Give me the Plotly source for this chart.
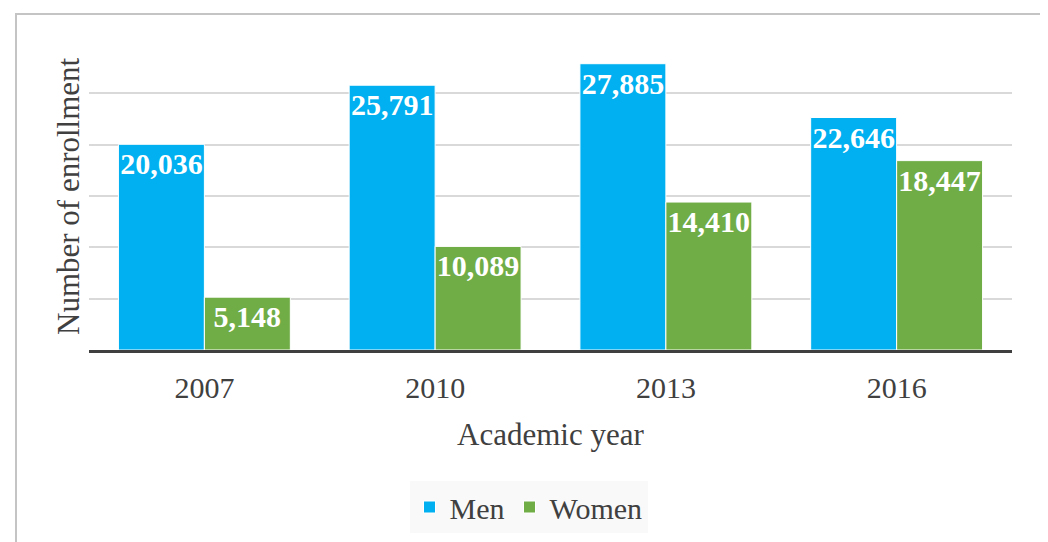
import plotly.graph_objects as go

years = ["2007", "2010", "2013", "2016"]
men = [20036, 25791, 27885, 22646]
women = [5148, 10089, 14410, 18447]
series_names = ["Men", "Women"]
colors = ["#00b0f0", "#70ad47"]

W, H = 1048, 542
OFF = 8  # page body margin offset
PL, PR, PT, PB = 89, 1012, 42, 350  # plot area in screen pixels
ML, MR, MT, MB = PL - OFF, W - (PR - OFF), PT - OFF, H - (PB - OFF)
bargap = 0.255
font = "Liberation Serif, Times New Roman, serif"
txt = "#404040"

fig = go.Figure()
for name, vals, c in zip(series_names, [men, women], colors):
    fig.add_trace(go.Bar(
        x=years, y=vals, name=name,
        marker=dict(color=c, line=dict(color="white", width=1)),
        texttemplate="<b>%{y:,}</b>", textposition="inside", textangle=0,
        insidetextanchor="end", constraintext="none",
        textfont=dict(family=font, size=30, color="white"),
    ))

plot_w = PR - PL
plot_h = PB - PT

def px_x(x):
    return (x - PL) / plot_w

def px_y(y):
    return (PB - y) / plot_h

annotations = [
    dict(x=0.5, y=px_y(434), xref="paper", yref="paper",
         text="Academic year", showarrow=False, xanchor="center", yanchor="middle",
         font=dict(family=font, size=31, color=txt)),
    dict(x=px_x(68), y=0.5, xref="paper", yref="paper",
         text="Number of enrollment", showarrow=False, textangle=-90,
         xanchor="center", yanchor="middle",
         font=dict(family=font, size=31, color=txt)),
]

fig.update_layout(
    width=W, height=H,
    margin=dict(l=ML, r=MR, t=MT, b=MB),
    paper_bgcolor="white", plot_bgcolor="white",
    barmode="group", bargap=bargap,
    font=dict(family=font, color=txt),
    showlegend=True,
    legend=dict(
        orientation="h", x=px_x(528.5), xanchor="center",
        y=px_y(507), yanchor="middle",
        bgcolor="#f9f9f9", font=dict(family=font, size=30, color=txt),
    ),
    annotations=annotations,
    shapes=[dict(
        type="rect", xref="paper", yref="paper",
        x0=px_x(16), x1=px_x(1042), y0=px_y(14), y1=px_y(570),
        line=dict(color="#c4c4c4", width=2),
    )],
)
fig.update_xaxes(
    type="category",
    showline=True, linecolor="#3f3f3f", linewidth=3,
    ticks="outside", ticklen=9, tickcolor="rgba(0,0,0,0)",
    tickfont=dict(family=font, size=30, color=txt),
    showgrid=False,
)
fig.update_yaxes(
    range=[0, 30000], dtick=5000, showticklabels=False, showgrid=True,
    gridcolor="#d9d9d9", gridwidth=1.5, zeroline=False, showline=False,
)

fig.write_html("out.html")
